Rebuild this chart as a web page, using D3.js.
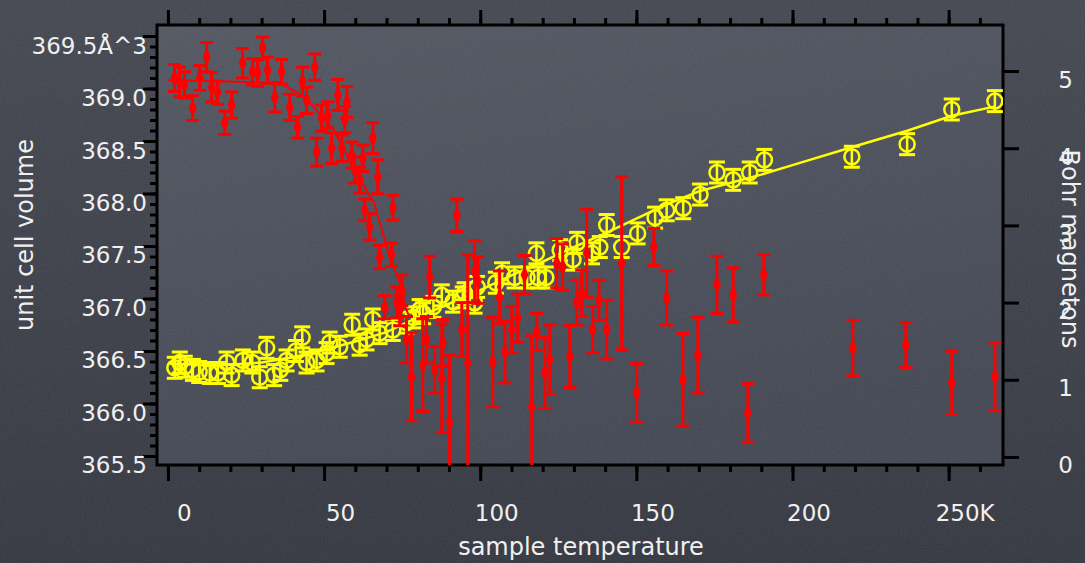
<!DOCTYPE html>
<html>
<head>
<meta charset="utf-8">
<script src="https://cdn.jsdelivr.net/npm/d3@7"></script>
<style>
html, body { margin: 0; padding: 0; background: #393c46; }
svg { display: block; }
text { font-family: "DejaVu Sans", sans-serif; fill: #f0f0f0; }
</style>
</head>
<body>
<svg id="chart" width="1085" height="563"></svg>
<script>
// volume data (yellow open circles), left axis
var volT = [2.2, 3.8, 5.4, 8, 10, 13.4, 16, 18.8, 20.4, 24, 27, 29.4, 31.6, 34, 36, 38, 41, 43, 44.4, 47.6,
  50.8, 51.8, 55, 59, 61.4, 63.6, 65.6, 67.8, 72, 76.4, 78.5, 80.6, 81.7, 85, 87.7, 91.3, 94.4, 95, 98.2, 99,
  105, 107, 111, 115, 118, 118.5, 121, 125.6, 129.7, 131, 135.8, 138.3, 140.5, 145.3, 150.4, 156, 159.7, 165, 170.4, 175.8,
  181, 186.3, 191, 219, 236.7, 251, 264.8];
var volV = [366.34, 366.39, 366.35, 366.32, 366.30, 366.29, 366.29, 366.39, 366.27, 366.41, 366.39, 366.25, 366.53, 366.27, 366.32, 366.41, 366.50, 366.63, 366.39, 366.41,
  366.48, 366.58, 366.54, 366.75, 366.56, 366.61, 366.80, 366.67, 366.70, 366.77, 366.82, 366.89, 366.86, 366.92, 367.03, 366.97, 367.01, 367.05, 366.96, 367.11,
  367.15, 367.24, 367.20, 367.20, 367.43, 367.20, 367.20, 367.46, 367.37, 367.53, 367.43, 367.49, 367.70, 367.49, 367.62, 367.77, 367.84, 367.86, 367.99, 368.20,
  368.13, 368.20, 368.32, 368.35, 368.47, 368.80, 368.88];
var volErr = 0.1;

// volume fit (yellow line)
var volFitT = [0, 10, 20, 30, 40, 50, 60, 70, 80, 90, 100, 110, 120, 130, 140, 150, 160, 170, 180, 190, 200, 220, 237, 251, 265];
var volFitV = [366.38, 366.37, 366.37, 366.39, 366.44, 366.51, 366.59, 366.68, 366.82, 366.95, 367.08, 367.22, 367.35, 367.49, 367.62, 367.76, 367.90, 368.02, 368.10, 368.18, 368.27, 368.45, 368.60, 368.74, 368.83];

// moment data (red points), right axis
var momT = [2.1, 3.7, 5.3, 7.9, 10.2, 12.4, 14, 15.9, 18.2, 20.4, 23.9, 27.1, 28.7, 30.3, 31.9, 34.2, 36.4, 39, 41.5, 43.1,
  44.4, 47, 47.6, 49.2, 51.2, 52.4, 54.4, 55.7, 56.6, 57.3, 58.9, 59.8, 61.4, 62.4, 65.6, 67.2, 63, 64.6, 67.8, 72,
  71.6, 69.4, 73.3, 74.2, 74.9, 76.4, 78, 81.6, 82.8, 83.8, 85.4, 87.7, 88, 90.2, 92.5, 94.1, 96, 98.2, 99.2, 104,
  106.2, 107.9, 110.1, 112, 114.2, 116.5, 118.1, 120.7, 122.3, 124.5, 126.4, 128.7, 130.9, 132.5, 134.1, 136, 138, 140.5, 145.3, 150.1,
  155.6, 159.7, 164.9, 169.7, 175.8, 181, 185.7, 190.8, 219.3, 236.3, 251, 264.8];
var momM = [4.91, 4.86, 4.82, 4.52, 4.91, 5.18, 4.79, 4.72, 4.33, 4.56, 5.10, 4.99, 4.97, 5.30, 5.01, 4.66, 4.99, 4.53, 4.27, 4.86,
  4.62, 5.05, 3.95, 4.39, 4.43, 4.00, 4.69, 4.00, 4.37, 4.60, 3.91, 3.72, 3.59, 3.87, 4.13, 3.63, 3.20, 2.98, 2.59, 3.23,
  2.62, 1.94, 2.00, 1.90, 2.16, 1.52, 1.04, 1.19, 1.52, 2.33, 1.13, 1.02, 1.48, 0.45, 3.13, 1.65, 1.22, 2.40, 2.29, 1.23,
  2.07, 1.36, 1.65, 1.80, 2.36, 0.65, 1.62, 1.09, 1.26, 2.51, 2.46, 1.30, 2.00, 2.12, 2.64, 1.65, 2.03, 1.65, 2.51, 0.83,
  2.72, 2.06, 1.00, 1.32, 2.23, 2.10, 0.57, 2.36, 1.41, 1.45, 0.96, 1.04];
var momErr = [0.175, 0.19, 0.17, 0.16, 0.16, 0.19, 0.19, 0.15, 0.15, 0.17, 0.19, 0.17, 0.17, 0.14, 0.17, 0.19, 0.16, 0.17, 0.14, 0.19,
  0.17, 0.17, 0.18, 0.17, 0.17, 0.2, 0.2, 0.17, 0.17, 0.2, 0.17, 0.17, 0.17, 0.17, 0.2, 0.22, 0.14, 0.17, 0.15, 0.16,
  0.15, 0.15, 0.2, 0.2, 0.2, 0.3, 0.57, 0.6, 0.3, 0.27, 0.3, 0.7, 0.3, 0.87, 0.21, 0.35, 1.4, 0.4, 0.3, 0.58,
  0.34, 0.4, 0.3, 0.31, 0.25, 0.92, 0.24, 0.46, 0.45, 0.32, 0.3, 0.4, 0.29, 0.3, 0.57, 0.3, 0.26, 0.38, 1.12, 0.38,
  0.24, 0.35, 0.6, 0.49, 0.37, 0.35, 0.38, 0.26, 0.36, 0.29, 0.41, 0.44];

// moment fit (red line)
var momFitT = [0, 15, 36, 44, 53, 61, 66, 68.5, 71, 74, 76, 77.5];
var momFitM = [4.88, 4.87, 4.84, 4.66, 4.24, 3.63, 3.29, 2.94, 2.59, 2.29, 1.94, 1.80];

// ticks and labels
var xTicks = [0, 50, 100, 150, 200, 250];
var xTickLabels = ["0", "50", "100", "150", "200", "250K"];
var xMinor = d3.range(0, 261, 10);
var vTicks = [365.5, 366.0, 366.5, 367.0, 367.5, 368.0, 368.5, 369.0, 369.5];
var vTickLabels = ["365.5", "366.0", "366.5", "367.0", "367.5", "368.0", "368.5", "369.0", "369.5Å^3"];
var vMinor = d3.range(3655, 3696, 1).map(function(d) { return d / 10; });
var mTicks = [0, 1, 2, 3, 4, 5];

var svg = d3.select("#chart");
var frame = {left: 157, right: 1003, top: 25, bottom: 465};

var x = d3.scaleLinear().domain([-3.5, 267.4]).range([frame.left, frame.right]);
var yV = d3.scaleLinear().domain([365.414, 369.605]).range([frame.bottom, frame.top]);
var yM = d3.scaleLinear().domain([-0.104, 5.596]).range([frame.bottom, frame.top]);

// backgrounds
var defs = svg.append("defs");
var bg = defs.append("linearGradient").attr("id", "bg").attr("x1", 0).attr("y1", 0).attr("x2", 0).attr("y2", 1);
bg.append("stop").attr("offset", "0%").attr("stop-color", "#43464f");
bg.append("stop").attr("offset", "100%").attr("stop-color", "#33363f");
var pg = defs.append("linearGradient").attr("id", "pg").attr("x1", 0).attr("y1", 0).attr("x2", 0.3).attr("y2", 1);
pg.append("stop").attr("offset", "0%").attr("stop-color", "#51555f");
pg.append("stop").attr("offset", "100%").attr("stop-color", "#424652");
var noise = defs.append("filter").attr("id", "noise");
noise.append("feTurbulence").attr("type", "fractalNoise").attr("baseFrequency", 0.7).attr("numOctaves", 2).attr("seed", 4);
noise.append("feColorMatrix").attr("type", "matrix")
  .attr("values", "0 0 0 0 1  0 0 0 0 1  0 0 0 0 1  0 0 0 0.08 0");
defs.append("clipPath").attr("id", "plotclip").append("rect")
  .attr("x", frame.left).attr("y", frame.top)
  .attr("width", frame.right - frame.left).attr("height", frame.bottom - frame.top);

svg.append("rect").attr("width", 1085).attr("height", 563).attr("fill", "url(#bg)");
svg.append("rect").attr("x", frame.left).attr("y", frame.top)
  .attr("width", frame.right - frame.left).attr("height", frame.bottom - frame.top)
  .attr("fill", "url(#pg)");
svg.append("rect").attr("width", 1085).attr("height", 563).attr("filter", "url(#noise)");

// axes
function styleAxis(g, w) {
  g.select(".domain").remove();
  g.selectAll(".tick line").attr("stroke", "#000").attr("stroke-width", w);
}

svg.append("g").attr("transform", "translate(" + frame.left + ",0)")
  .call(d3.axisLeft(yV).tickValues(vMinor).tickSize(7).tickFormat(""))
  .call(styleAxis, 3);
svg.append("g").attr("transform", "translate(" + frame.left + ",0)")
  .call(d3.axisLeft(yV).tickValues(vTicks).tickSize(14)
    .tickFormat(function(d, i) { return vTickLabels[i]; }))
  .call(styleAxis, 3)
  .call(function(g) {
    g.selectAll(".tick text").attr("x", -10).attr("y", 17).attr("dy", 0)
      .attr("fill", "#f0f0f0").style("font-size", "23px").style("font-family", "DejaVu Sans");
  });

svg.append("g").attr("transform", "translate(0," + frame.bottom + ")")
  .call(d3.axisBottom(x).tickValues(xMinor).tickSize(7).tickFormat(""))
  .call(styleAxis, 3);
svg.append("g").attr("transform", "translate(0," + frame.bottom + ")")
  .call(d3.axisBottom(x).tickValues(xTicks).tickSize(16)
    .tickFormat(function(d, i) { return xTickLabels[i]; }))
  .call(styleAxis, 3)
  .call(function(g) {
    g.selectAll(".tick text").attr("x", 16).attr("y", 56).attr("dy", 0)
      .attr("fill", "#f0f0f0").style("font-size", "23px").style("font-family", "DejaVu Sans");
  });

svg.append("g").attr("transform", "translate(0," + frame.top + ")")
  .call(d3.axisTop(x).tickValues(xMinor).tickSize(7).tickFormat(""))
  .call(styleAxis, 3);
svg.append("g").attr("transform", "translate(0," + frame.top + ")")
  .call(d3.axisTop(x).tickValues(xTicks).tickSize(15).tickFormat(""))
  .call(styleAxis, 3);

svg.append("g").attr("transform", "translate(" + frame.right + ",0)")
  .call(d3.axisRight(yM).tickValues(mTicks).tickSize(16).tickFormat(d3.format("d")))
  .call(styleAxis, 3)
  .call(function(g) {
    g.selectAll(".tick text").attr("x", 70).attr("y", 16).attr("dy", 0).attr("text-anchor", "end")
      .attr("fill", "#f0f0f0").style("font-size", "23px").style("font-family", "DejaVu Sans");
  });

// frame
svg.append("rect").attr("x", frame.left).attr("y", frame.top)
  .attr("width", frame.right - frame.left).attr("height", frame.bottom - frame.top)
  .attr("fill", "none").attr("stroke", "#000").attr("stroke-width", 3);

// axis titles
svg.append("text").attr("x", 581).attr("y", 555).attr("text-anchor", "middle")
  .style("font-size", "24px").text("sample temperature");
svg.append("text").attr("transform", "translate(33,235) rotate(-90)").attr("text-anchor", "middle")
  .style("font-size", "24px").text("unit cell volume");
svg.append("text").attr("transform", "translate(1062,249) rotate(90)").attr("text-anchor", "middle")
  .style("font-size", "24px").text("Bohr magnetons");

var plot = svg.append("g").attr("clip-path", "url(#plotclip)");

// volume points
var yellow = "#ffff00";
var vol = volT.map(function(t, i) { return {t: t, v: volV[i]}; });
var vp = plot.append("g").selectAll("g").data(vol).enter().append("g");
vp.append("line")
  .attr("x1", function(d) { return x(d.t); }).attr("x2", function(d) { return x(d.t); })
  .attr("y1", function(d) { return yV(d.v - volErr); }).attr("y2", function(d) { return yV(d.v + volErr); })
  .attr("stroke", yellow).attr("stroke-width", 2.5);
vp.append("line")
  .attr("x1", function(d) { return x(d.t) - 8; }).attr("x2", function(d) { return x(d.t) + 8; })
  .attr("y1", function(d) { return yV(d.v + volErr); }).attr("y2", function(d) { return yV(d.v + volErr); })
  .attr("stroke", yellow).attr("stroke-width", 3);
vp.append("line")
  .attr("x1", function(d) { return x(d.t) - 8; }).attr("x2", function(d) { return x(d.t) + 8; })
  .attr("y1", function(d) { return yV(d.v - volErr); }).attr("y2", function(d) { return yV(d.v - volErr); })
  .attr("stroke", yellow).attr("stroke-width", 3);
vp.append("circle")
  .attr("cx", function(d) { return x(d.t); }).attr("cy", function(d) { return yV(d.v); })
  .attr("r", 7.5).attr("fill", "none").attr("stroke", yellow).attr("stroke-width", 2.5);

plot.append("path")
  .datum(volFitT.map(function(t, i) { return [t, volFitV[i]]; }))
  .attr("d", d3.line().x(function(d) { return x(d[0]); }).y(function(d) { return yV(d[1]); }))
  .attr("fill", "none").attr("stroke", yellow).attr("stroke-width", 2.5);

// moment points
var red = "#ff0000";
var mom = momT.map(function(t, i) { return {t: t, m: momM[i], e: momErr[i]}; });
var mp = plot.append("g").selectAll("g").data(mom).enter().append("g");
mp.append("line")
  .attr("x1", function(d) { return x(d.t); }).attr("x2", function(d) { return x(d.t); })
  .attr("y1", function(d) { return yM(d.m - d.e); }).attr("y2", function(d) { return yM(d.m + d.e); })
  .attr("stroke", red).attr("stroke-width", 3);
mp.append("line")
  .attr("x1", function(d) { return x(d.t) - 6.5; }).attr("x2", function(d) { return x(d.t) + 6.5; })
  .attr("y1", function(d) { return yM(d.m + d.e); }).attr("y2", function(d) { return yM(d.m + d.e); })
  .attr("stroke", red).attr("stroke-width", 3);
mp.append("line")
  .attr("x1", function(d) { return x(d.t) - 6.5; }).attr("x2", function(d) { return x(d.t) + 6.5; })
  .attr("y1", function(d) { return yM(d.m - d.e); }).attr("y2", function(d) { return yM(d.m - d.e); })
  .attr("stroke", red).attr("stroke-width", 3);
mp.append("path")
  .attr("d", d3.symbol().type(d3.symbolDiamond).size(100))
  .attr("transform", function(d) { return "translate(" + x(d.t) + "," + yM(d.m) + ") scale(0.75,1)"; })
  .attr("fill", red);

plot.append("path")
  .datum(momFitT.map(function(t, i) { return [t, momFitM[i]]; }))
  .attr("d", d3.line().x(function(d) { return x(d[0]); }).y(function(d) { return yM(d[1]); }))
  .attr("fill", "none").attr("stroke", red).attr("stroke-width", 2);
</script>
</body>
</html>
